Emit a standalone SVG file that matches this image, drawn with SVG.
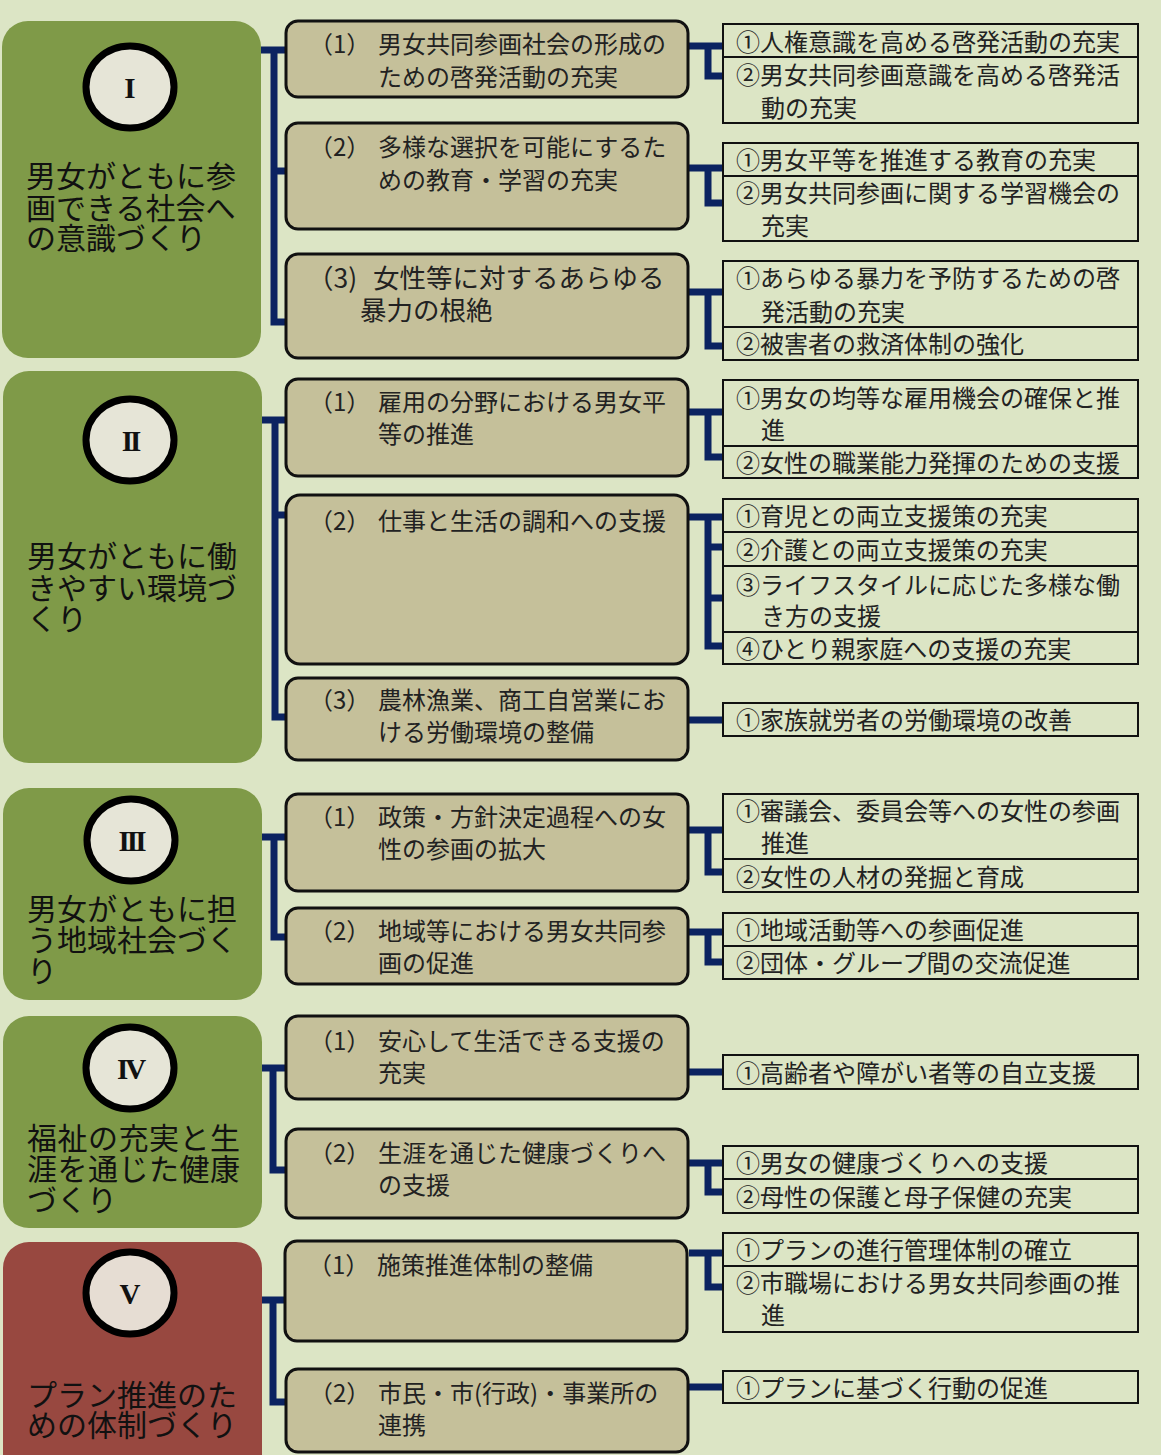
<svg xmlns="http://www.w3.org/2000/svg" width="1161" height="1455" viewBox="0 0 1161 1455">
<style>
.bg{fill:#dce5c5}
.sec{fill:#7f9a48}
.secr{fill:#984840}
.circ{fill:#e6e5d7;stroke:#000;stroke-width:7}
.circr{fill:#e6ddd3;stroke:#000;stroke-width:7}
.num{font-family:"Liberation Serif",serif;font-weight:bold;font-size:29px;fill:#111;text-anchor:middle}
.title{font-family:"Noto Sans CJK JP",sans-serif;font-size:30px;fill:#111}
.mid{fill:#c5c09a;stroke:#111;stroke-width:3}
.mt{font-family:"Noto Sans CJK JP",sans-serif;font-size:24px;fill:#222}
.mt3{font-family:"Noto Sans CJK JP",sans-serif;font-size:26.5px;fill:#222}
.rb{fill:none;stroke:#111;stroke-width:2}
.rt{font-family:"Noto Sans CJK JP",sans-serif;font-size:24px;fill:#222}
.con{fill:none;stroke:#0b2361;stroke-width:7}
</style>
<rect class="bg" x="0" y="0" width="1161" height="1455"/>

<g id="connectors">
<path class="con" d="M261 50H285M274 50V322H285M274 171H285"/>
<path class="con" d="M261 420H285M275 420V717H285M275 515H285"/>
<path class="con" d="M261 837H285M274 837V937H285"/>
<path class="con" d="M261 1068H285M273 1068V1170H285"/>
<path class="con" d="M261 1300H285M273 1300V1402H285"/>
<path class="con" d="M689 46H723M708 46V76H723"/>
<path class="con" d="M689 168H723M708 168V203H723"/>
<path class="con" d="M689 292H723M708 292V346H723"/>
<path class="con" d="M689 412H723M708 412V457H723"/>
<path class="con" d="M689 517H723M708 517V646H723M708 547H723M708 598H723"/>
<path class="con" d="M689 720H723"/>
<path class="con" d="M689 830H723M708 830V872H723"/>
<path class="con" d="M689 932H723M708 932V962H723"/>
<path class="con" d="M689 1072H723"/>
<path class="con" d="M689 1163H723M708 1163V1192H723"/>
<path class="con" d="M689 1253H723M708 1253V1287H723"/>
<path class="con" d="M689 1387H723"/>
</g>

<g id="sec1">
<rect class="sec" x="2" y="21" width="259" height="337" rx="26"/>
<ellipse class="circ" cx="130" cy="87" rx="44" ry="41"/>
<text class="num" x="130" y="98">I</text>
<text class="title" x="26" y="187">男女がともに参</text>
<text class="title" x="26" y="219">画できる社会へ</text>
<text class="title" x="26" y="249">の意識づくり</text>
</g>
<g id="n1-1">
<rect class="mid" x="286" y="21" width="402" height="76" rx="12"/>
<text class="mt" x="309" y="53">（1）<tspan x="378">男女共同参画社会の形成の</tspan></text>
<text class="mt" x="378" y="86">ための啓発活動の充実</text>
</g>
<g id="n1-2">
<rect class="mid" x="286" y="123" width="402" height="106" rx="12"/>
<text class="mt" x="309" y="156">（2）<tspan x="378">多様な選択を可能にするた</tspan></text>
<text class="mt" x="378" y="189">めの教育・学習の充実</text>
</g>
<g id="n1-3">
<rect class="mid" x="286" y="254" width="402" height="104" rx="12"/>
<text class="mt3" x="307" y="288">（3)<tspan x="373">女性等に対するあらゆる</tspan></text>
<text class="mt3" x="360" y="320">暴力の根絶</text>
</g>
<g id="r1-1">
<rect class="rb" x="723" y="24" width="415" height="33"/>
<rect class="rb" x="723" y="57" width="415" height="66"/>
<text class="rt" x="736" y="51">①人権意識を高める啓発活動の充実</text>
<text class="rt" x="736" y="84">②男女共同参画意識を高める啓発活</text>
<text class="rt" x="761" y="117">動の充実</text>
</g>
<g id="r1-2">
<rect class="rb" x="723" y="143" width="415" height="33"/>
<rect class="rb" x="723" y="176" width="415" height="65"/>
<text class="rt" x="736" y="169">①男女平等を推進する教育の充実</text>
<text class="rt" x="736" y="202">②男女共同参画に関する学習機会の</text>
<text class="rt" x="761" y="235">充実</text>
</g>
<g id="r1-3">
<rect class="rb" x="723" y="261" width="415" height="66"/>
<rect class="rb" x="723" y="327" width="415" height="33"/>
<text class="rt" x="736" y="287">①あらゆる暴力を予防するための啓</text>
<text class="rt" x="761" y="321">発活動の充実</text>
<text class="rt" x="736" y="353">②被害者の救済体制の強化</text>
</g>

<g id="sec2">
<rect class="sec" x="3" y="371" width="259" height="392" rx="26"/>
<ellipse class="circ" cx="130" cy="440" rx="44" ry="41"/>
<text class="num" x="130" y="451" letter-spacing="-3">II</text>
<text class="title" x="27" y="567">男女がともに働</text>
<text class="title" x="27" y="599">きやすい環境づ</text>
<text class="title" x="27" y="630">くり</text>
</g>
<g id="n2-1">
<rect class="mid" x="286" y="379" width="402" height="97" rx="12"/>
<text class="mt" x="309" y="411">（1）<tspan x="378">雇用の分野における男女平</tspan></text>
<text class="mt" x="378" y="443">等の推進</text>
</g>
<g id="n2-2">
<rect class="mid" x="286" y="495" width="402" height="169" rx="14"/>
<text class="mt" x="309" y="530">（2）<tspan x="378">仕事と生活の調和への支援</tspan></text>
</g>
<g id="n2-3">
<rect class="mid" x="286" y="678" width="402" height="82" rx="12"/>
<text class="mt" x="309" y="709">（3）<tspan x="378">農林漁業、商工自営業にお</tspan></text>
<text class="mt" x="378" y="741">ける労働環境の整備</text>
</g>
<g id="r2-1">
<rect class="rb" x="723" y="380" width="415" height="66"/>
<rect class="rb" x="723" y="446" width="415" height="32"/>
<text class="rt" x="736" y="407">①男女の均等な雇用機会の確保と推</text>
<text class="rt" x="761" y="439">進</text>
<text class="rt" x="736" y="472">②女性の職業能力発揮のための支援</text>
</g>
<g id="r2-2">
<rect class="rb" x="723" y="499" width="415" height="33"/>
<rect class="rb" x="723" y="532" width="415" height="34"/>
<rect class="rb" x="723" y="566" width="415" height="66"/>
<rect class="rb" x="723" y="632" width="415" height="32"/>
<text class="rt" x="736" y="525">①育児との両立支援策の充実</text>
<text class="rt" x="736" y="559">②介護との両立支援策の充実</text>
<text class="rt" x="736" y="594">③ライフスタイルに応じた多様な働</text>
<text class="rt" x="761" y="625">き方の支援</text>
<text class="rt" x="736" y="658">④ひとり親家庭への支援の充実</text>
</g>
<g id="r2-3">
<rect class="rb" x="723" y="703" width="415" height="33"/>
<text class="rt" x="736" y="729">①家族就労者の労働環境の改善</text>
</g>

<g id="sec3">
<rect class="sec" x="3" y="788" width="259" height="212" rx="26"/>
<ellipse class="circ" cx="131" cy="840" rx="44" ry="41"/>
<text class="num" x="131" y="851" letter-spacing="-3">III</text>
<text class="title" x="27" y="920">男女がともに担</text>
<text class="title" x="27" y="951">う地域社会づく</text>
<text class="title" x="27" y="982">り</text>
</g>
<g id="n3-1">
<rect class="mid" x="286" y="794" width="402" height="97" rx="12"/>
<text class="mt" x="309" y="826">（1）<tspan x="378">政策・方針決定過程への女</tspan></text>
<text class="mt" x="378" y="858">性の参画の拡大</text>
</g>
<g id="n3-2">
<rect class="mid" x="286" y="908" width="402" height="76" rx="12"/>
<text class="mt" x="309" y="940">（2）<tspan x="378">地域等における男女共同参</tspan></text>
<text class="mt" x="378" y="972">画の促進</text>
</g>
<g id="r3-1">
<rect class="rb" x="723" y="794" width="415" height="65"/>
<rect class="rb" x="723" y="859" width="415" height="33"/>
<text class="rt" x="736" y="820">①審議会、委員会等への女性の参画</text>
<text class="rt" x="761" y="852">推進</text>
<text class="rt" x="736" y="886">②女性の人材の発掘と育成</text>
</g>
<g id="r3-2">
<rect class="rb" x="723" y="913" width="415" height="33"/>
<rect class="rb" x="723" y="946" width="415" height="33"/>
<text class="rt" x="736" y="939">①地域活動等への参画促進</text>
<text class="rt" x="736" y="972">②団体・グループ間の交流促進</text>
</g>

<g id="sec4">
<rect class="sec" x="3" y="1016" width="259" height="212" rx="26"/>
<ellipse class="circ" cx="130" cy="1068" rx="44" ry="41"/>
<text class="num" x="130" y="1079" letter-spacing="-3">IV</text>
<text class="title" x="27" y="1149" font-size="27" textLength="213" lengthAdjust="spacing">福祉の充実と生</text>
<text class="title" x="27" y="1180" font-size="27" textLength="213" lengthAdjust="spacing">涯を通じた健康</text>
<text class="title" x="27" y="1211" font-size="27">づくり</text>
</g>
<g id="n4-1">
<rect class="mid" x="286" y="1016" width="402" height="83" rx="12"/>
<text class="mt" x="309" y="1050">（1）<tspan x="378">安心して生活できる支援の</tspan></text>
<text class="mt" x="378" y="1082">充実</text>
</g>
<g id="n4-2">
<rect class="mid" x="286" y="1129" width="402" height="89" rx="12"/>
<text class="mt" x="309" y="1162">（2）<tspan x="378">生涯を通じた健康づくりへ</tspan></text>
<text class="mt" x="378" y="1194">の支援</text>
</g>
<g id="r4-1">
<rect class="rb" x="723" y="1055" width="415" height="34"/>
<text class="rt" x="736" y="1082">①高齢者や障がい者等の自立支援</text>
</g>
<g id="r4-2">
<rect class="rb" x="723" y="1146" width="415" height="33"/>
<rect class="rb" x="723" y="1179" width="415" height="34"/>
<text class="rt" x="736" y="1172">①男女の健康づくりへの支援</text>
<text class="rt" x="736" y="1206">②母性の保護と母子保健の充実</text>
</g>

<g id="sec5">
<rect class="secr" x="3" y="1242" width="259" height="240" rx="26"/>
<ellipse class="circr" cx="130" cy="1293" rx="44" ry="41"/>
<text class="num" x="130" y="1304">V</text>
<text class="title" x="27" y="1406">プラン推進のた</text>
<text class="title" x="27" y="1436">めの体制づくり</text>
</g>
<g id="n5-1">
<rect class="mid" x="285" y="1241" width="402" height="100" rx="12"/>
<text class="mt" x="308" y="1274">（1）<tspan x="377">施策推進体制の整備</tspan></text>
</g>
<g id="n5-2">
<rect class="mid" x="286" y="1369" width="402" height="83" rx="12"/>
<text class="mt" x="309" y="1402">（2）<tspan x="378">市民・市(行政)・事業所の</tspan></text>
<text class="mt" x="378" y="1434">連携</text>
</g>
<g id="r5-1">
<rect class="rb" x="723" y="1233" width="415" height="33"/>
<rect class="rb" x="723" y="1266" width="415" height="66"/>
<text class="rt" x="736" y="1259">①プランの進行管理体制の確立</text>
<text class="rt" x="736" y="1292">②市職場における男女共同参画の推</text>
<text class="rt" x="761" y="1324">進</text>
</g>
<g id="r5-2">
<rect class="rb" x="723" y="1371" width="415" height="32"/>
<text class="rt" x="736" y="1397">①プランに基づく行動の促進</text>
</g>
</svg>
